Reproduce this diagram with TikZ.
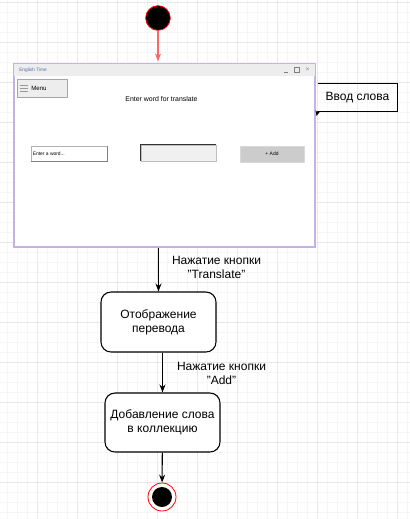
\documentclass[tikz,border=0pt]{standalone}
\usepackage{fontspec}
\setmainfont{Liberation Sans}
\usetikzlibrary{arrows.meta,positioning,calc,fit}
\definecolor{winline}{HTML}{C4B2E6}
\definecolor{titlebar}{HTML}{EDEDED}
\definecolor{btngray}{HTML}{CCCCCC}
\definecolor{fieldgray}{HTML}{F0F0F0}
\definecolor{gridminor}{HTML}{F6F6F6}
\definecolor{gridmajor}{HTML}{E8E8E8}
\definecolor{startarrow}{HTML}{FF6666}
\definecolor{titleblue}{HTML}{5A6AAE}
\tikzset{
  statebox/.style={draw=black,line width=0.8pt,fill=white,rounded corners=7.5pt,
    minimum width=86.25pt,minimum height=45pt,align=center,font=\fontsize{9}{10.5}\selectfont},
  trans/.style={line width=0.8pt,-{Stealth[length=6pt,width=4.5pt]}},
  translabel/.style={align=center,font=\fontsize{9}{10.5}\selectfont},
  uitext/.style={inner sep=0pt,anchor=west}
}

\begin{document}
\begin{tikzpicture}[x=0.75pt,y=-0.75pt]
\path[use as bounding box,fill=white] (0,0) rectangle (410,519);
\foreach \x in {7.5,17.5,...,407.5}
  \draw[gridminor,line width=0.45pt] (\x,0)--(\x,519);
\foreach \y in {2.5,12.5,...,512.5}
  \draw[gridminor,line width=0.45pt] (0,\y)--(410,\y);
\foreach \x in {37.5,77.5,...,397.5}
  \draw[gridmajor,line width=0.5pt] (\x,0)--(\x,519);
\foreach \y in {2.5,42.5,...,502.5}
  \draw[gridmajor,line width=0.5pt] (0,\y)--(410,\y);

\node[circle,fill=black,draw=red,line width=0.6pt,minimum size=18.5pt,inner sep=0pt] (start) at (158,18) {};

\node[draw=winline,line width=0.9pt,fill=white,minimum width=225.75pt,minimum height=137.25pt,inner sep=0pt] (win) at (164.5,155.5) {};
\fill[titlebar] ([xshift=0.5pt,yshift=-0.5pt]win.north west) rectangle (314.5,76);
\node[uitext,text=titleblue,font=\fontsize{3.6}{4}\selectfont] (wintitle) at (19,70) {English Time};
\draw[gray,line width=0.4pt] (284,72.5)--(288,72.5);
\draw[gray,line width=0.4pt] (294.5,67.5) rectangle (299,72);
\node[text=gray,font=\fontsize{5}{5}\selectfont,inner sep=0pt] (winclose) at (307.5,70) {×};

\node[draw=gray!70,fill=titlebar,line width=0.5pt,minimum width=37.5pt,minimum height=13.5pt,inner sep=0pt] (menubtn) at (42,88) {};
\foreach \y in {85,88,91}
  \draw[gray!80,line width=0.5pt] (19.5,\y)--(28,\y);
\node[uitext,font=\fontsize{4.6}{5}\selectfont] (menutext) at (31,88) {Menu};
\node[font=\fontsize{5.2}{6}\selectfont,inner sep=0pt] (prompt) at (161.5,99.5) {Enter word for translate};

\node[draw=gray!60,fill=white,line width=0.4pt,minimum width=57pt,minimum height=11.25pt,inner sep=0pt] (wordfield) at (69,153.5) {};
\draw[gray,line width=0.6pt] (wordfield.south west)--(wordfield.south east)--(wordfield.north east);
\node[uitext,font=\fontsize{3.7}{4}\selectfont] (wordhint) at (32.5,153.5) {Enter a word...};
\node[fill=fieldgray,draw=gray!50,line width=0.4pt,minimum width=56.25pt,minimum height=12pt,inner sep=0pt] (transfield) at (178.5,153) {};
\draw[black!80,line width=0.6pt] (transfield.south west)--(transfield.north west)--(transfield.north east);
\node[fill=btngray,draw=gray!30,line width=0.4pt,minimum width=48pt,minimum height=12pt,inner sep=0pt,font=\fontsize{3.7}{4}\selectfont] (addbtn) at (272,154) {+ Add};

\node[minimum width=59.25pt,minimum height=20.25pt,inner sep=0pt,font=\fontsize{9}{10.5}\selectfont] (vvod) at (357.5,97.5) {Ввод слова};
\draw[line width=0.8pt] (vvod.north west)--(vvod.north east)--(vvod.south east)--(vvod.south west);
\coordinate (vvodtip) at (316.5,116);
\draw[line width=0.8pt,-{Stealth[length=4pt,width=3.5pt]}] (vvod.south west)--(vvodtip);

\node[statebox] (show) at (158.5,322) {Отображение\\перевода};
\node[statebox,minimum height=44.25pt] (addcoll) at (162.5,422.5) {Добавление слова\\в коллекцию};

\node[circle,draw=red,fill=white,line width=0.6pt,minimum size=21pt,inner sep=0pt] (finish) at (162,497) {};
\node[circle,fill=black,minimum size=15pt,inner sep=0pt] (finishdot) at (finish) {};

\draw[startarrow,line width=0.8pt,-{Stealth[length=6pt,width=4.5pt,open]}] (start)--([yshift=1.5pt]start |- win.north);
\draw[trans] (show.north |- win.south)--(show.north);
\draw[trans] (addcoll.north |- show.south)--(addcoll.north);
\draw[trans] (addcoll)--(finish);

\node[translabel] (lbltranslate) at (216.5,267.5) {Нажатие кнопки\\"Translate"};
\node[translabel] (lbladd) at (221.5,373.5) {Нажатие кнопки\\"Add"};
\end{tikzpicture}
\end{document}
